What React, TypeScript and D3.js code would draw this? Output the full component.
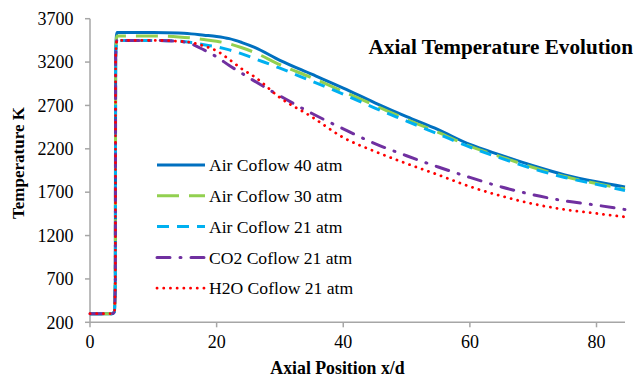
import React from 'react';
import * as d3 from 'd3';

// axial position x/d
const xs = [0, 3.5, 3.85, 4.0, 4.05, 4.25, 10, 14, 16, 18, 20, 22, 24, 26, 30, 35, 40, 45, 50, 55, 60, 65, 70, 75, 80, 84.5];

// temperature K per series (same x positions)
const air40 = [300, 300, 320, 700, 3300, 3540, 3540, 3535, 3525, 3510, 3495, 3470, 3425, 3370, 3220, 3060, 2900, 2730, 2570, 2420, 2250, 2125, 2005, 1900, 1820, 1760];
const air30 = [300, 300, 320, 700, 3280, 3500, 3500, 3490, 3478, 3460, 3440, 3410, 3365, 3310, 3170, 3020, 2860, 2700, 2540, 2390, 2230, 2105, 1985, 1880, 1800, 1735];
const air21 = [300, 300, 320, 700, 3250, 3450, 3450, 3440, 3425, 3400, 3375, 3340, 3295, 3240, 3130, 2980, 2830, 2670, 2520, 2370, 2220, 2090, 1970, 1870, 1790, 1720];
const co2 = [300, 300, 320, 700, 3250, 3450, 3450, 3440, 3410, 3340, 3260, 3160, 3070, 2980, 2810, 2610, 2430, 2260, 2120, 1990, 1870, 1760, 1670, 1600, 1550, 1500];
const h2o = [300, 300, 320, 700, 3250, 3450, 3450, 3440, 3425, 3385, 3330, 3230, 3120, 3030, 2790, 2570, 2330, 2170, 2030, 1900, 1765, 1655, 1565, 1500, 1455, 1415];

const seriesNames = ['Air Coflow 40 atm', 'Air Coflow 30 atm', 'Air Coflow 21 atm', 'CO2 Coflow 21 atm', 'H2O Coflow 21 atm'];
const seriesValues = [air40, air30, air21, co2, h2o];
const seriesColors = ['#0070C0', '#92D050', '#00B0F0', '#7030A0', '#FF0000'];
const seriesDash = ['', '22,10', '12,8', '13,10,1,10', '0.1,6.6'];
const seriesCap = ['butt', 'butt', 'butt', 'round', 'round'];

const yTicks = [200, 700, 1200, 1700, 2200, 2700, 3200, 3700];
const xTicks = [0, 20, 40, 60, 80];

const W = 638;
const H = 378;
const serif = '"Liberation Serif", "Times New Roman", serif';

export default function App() {
  const x = d3.scaleLinear().domain([0, 84.5]).range([90, 625]);
  const y = d3.scaleLinear().domain([200, 3700]).range([322.3, 18.7]);

  const line = d3.line<[number, number]>()
    .x(d => x(d[0]))
    .y(d => y(d[1]))
    .curve(d3.curveMonotoneX);

  const axisColor = '#A6A6A6';

  return (
    <svg width={W} height={H} style={{ position: 'absolute', left: 0, top: 0 }} fontFamily={serif}>
      <rect width={W} height={H} fill="#fff" />

      {/* axes */}
      <line x1={x(0)} x2={x(0)} y1={y(200)} y2={y(3700)} stroke={axisColor} strokeWidth={1.5} />
      <line x1={x(0)} x2={x(84.5)} y1={y(200)} y2={y(200)} stroke={axisColor} strokeWidth={1.5} />
      {yTicks.map(t => (
        <g key={'y' + t}>
          <line x1={x(0) - 5} x2={x(0)} y1={y(t)} y2={y(t)} stroke={axisColor} strokeWidth={1.5} />
          <text x={73.5} y={y(t)} dy="0.35em" textAnchor="end" fontSize={18} fill="#000">{t}</text>
        </g>
      ))}
      {xTicks.map(t => (
        <g key={'x' + t}>
          <line x1={x(t)} x2={x(t)} y1={y(200)} y2={y(200) + 5} stroke={axisColor} strokeWidth={1.5} />
          <text x={x(t)} y={348} textAnchor="middle" fontSize={18} fill="#000">{t}</text>
        </g>
      ))}

      {/* series */}
      {seriesValues.map((vals, i) => (
        <path
          key={seriesNames[i]}
          d={line(xs.map((v, j) => [v, vals[j]] as [number, number])) || ''}
          fill="none"
          stroke={seriesColors[i]}
          strokeWidth={i === 4 ? 2.8 : 3}
          strokeDasharray={seriesDash[i]}
          strokeLinecap={seriesCap[i] as any}
          strokeLinejoin="round"
        />
      ))}

      {/* legend */}
      {seriesNames.map((name, i) => {
        const ly = 165 + i * 30.8;
        return (
          <g key={'lg' + i}>
            <line x1={157} x2={205} y1={ly} y2={ly} stroke={seriesColors[i]} strokeWidth={i === 4 ? 2.8 : 3}
              strokeDasharray={seriesDash[i]} strokeLinecap={seriesCap[i] as any} />
            <text x={209} y={ly} dy="0.35em" fontSize={17.6} fill="#000">{name}</text>
          </g>
        );
      })}

      {/* titles */}
      <text x={633} y={54} textAnchor="end" fontSize={21.2} fontWeight="bold" fill="#000">Axial Temperature Evolution</text>
      <text x={337.5} y={374} textAnchor="middle" fontSize={17.8} fontWeight="bold" fill="#000">Axial Position x/d</text>
      <text transform="translate(24,163) rotate(-90)" textAnchor="middle" fontSize={17} fontWeight="bold" fill="#000">Temperature K</text>
    </svg>
  );
}
